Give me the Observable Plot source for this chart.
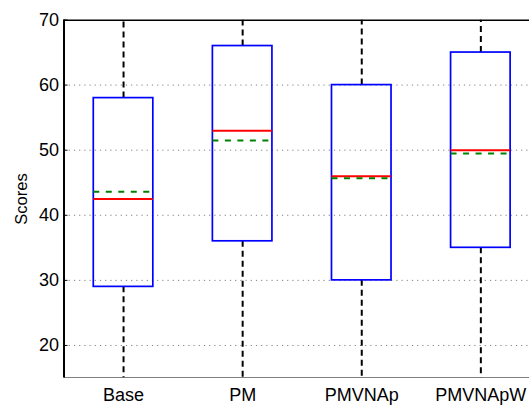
<!DOCTYPE html>
<html>
<head>
<meta charset="utf-8">
<script src="https://cdn.jsdelivr.net/npm/d3@7"></script>
<script src="https://cdn.jsdelivr.net/npm/@observablehq/plot@0.6"></script>
<style>
  html, body { margin: 0; padding: 0; background: #fff; overflow: hidden; }
</style>
</head>
<body>
<div id="chart"></div>
<script>
const categories = ["Base", "PM", "PMVNAp", "PMVNApW"];
const q1 = [29, 36, 30, 35];
const q3 = [58, 66, 60, 65];
const medians = [42.5, 53, 46, 50];
const means = [43.6, 51.5, 45.7, 49.5];
const whiskerLow = [15, 15, 15, 15];
const whiskerHigh = [70, 70, 70, 70];
const yTicks = [20, 30, 40, 50, 60, 70];
const gridTicks = [20, 30, 40, 50, 60];

const boxHalf = 0.25;
const rows = categories.map((c, i) => ({
  name: c, pos: i + 1, q1: q1[i], q3: q3[i], med: medians[i], mean: means[i],
  lo: whiskerLow[i], hi: whiskerHigh[i]
}));

const plot = Plot.plot({
  width: 529,
  height: 406,
  marginLeft: 63.5,
  marginRight: 0,
  marginTop: 19.5,
  marginBottom: 28.5,
  style: { fontFamily: "'Liberation Sans', Arial, sans-serif", fontSize: "18px", color: "#000", background: "#fff" },
  x: { type: "linear", domain: [0.5, 4.5], range: [63.5, 539.9] },
  y: { domain: [15, 70] },
  marks: [
    Plot.ruleY(gridTicks, { x1: 0.5, x2: 4.5, stroke: "#808080", strokeWidth: 1, strokeDasharray: "1.2,4", clip: true }),
    // whiskers
    Plot.ruleX(rows, { x: "pos", y1: "q3", y2: "hi", stroke: "#000", strokeWidth: 2, strokeDasharray: "6,4", clip: true }),
    Plot.ruleX(rows, { x: "pos", y1: "q1", y2: "lo", stroke: "#000", strokeWidth: 2, strokeDasharray: "6,4", clip: true }),
    // boxes
    Plot.rect(rows, { x1: d => d.pos - boxHalf, x2: d => d.pos + boxHalf, y1: "q1", y2: "q3", fill: "none", stroke: "#0000ff", strokeWidth: 1.7, clip: true }),
    // medians
    Plot.ruleY(rows, { y: "med", x1: d => d.pos - boxHalf, x2: d => d.pos + boxHalf, stroke: "#ff0000", strokeWidth: 2, clip: true }),
    // means
    Plot.ruleY(rows, { y: "mean", x1: d => d.pos - boxHalf, x2: d => d.pos + boxHalf, stroke: "#008000", strokeWidth: 2, strokeDasharray: "6,6.5", clip: true }),
    // frame lines
    Plot.ruleY([70, 15], { x1: 0.5, x2: 4.5, stroke: "#000", strokeWidth: 2, clip: true }),
    Plot.ruleX([0.5], { y1: 15, y2: 70, stroke: "#000", strokeWidth: 2 }),
    Plot.axisY(yTicks, { anchor: "left", tickSize: -4, tickPadding: 9, strokeWidth: 1, fontSize: 18, label: null }),
    Plot.axisY([], { anchor: "left", label: "Scores", labelAnchor: "center", labelArrow: "none", labelOffset: 49, fontSize: 16.5 }),
    Plot.axisX(categories.map((c, i) => i + 1), { anchor: "bottom", tickSize: 0, tickPadding: 10, fontSize: 18, tickFormat: v => categories[v - 1], label: null })
  ]
});
document.getElementById("chart").appendChild(plot);
</script>
</body>
</html>
